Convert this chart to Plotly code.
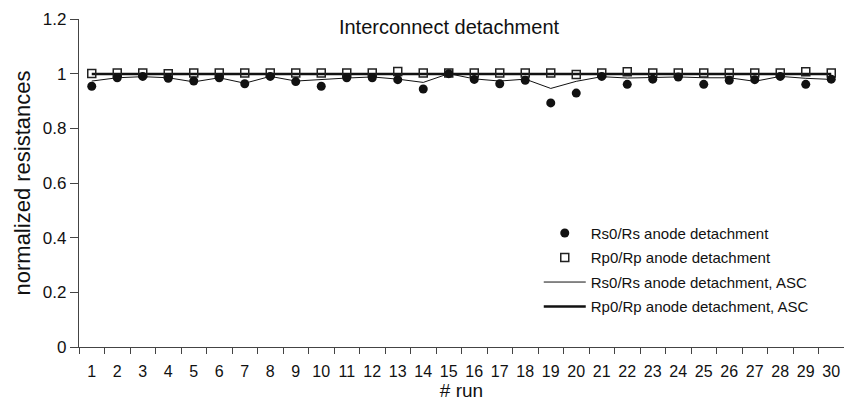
import plotly.graph_objects as go

runs = [str(i) for i in range(1, 31)]
rs_points = [0.954, 0.985, 0.990, 0.983, 0.973, 0.985, 0.963, 0.990, 0.971, 0.954,
             0.985, 0.985, 0.978, 0.944, 1.000, 0.979, 0.963, 0.976, 0.893, 0.929,
             0.990, 0.961, 0.980, 0.988, 0.961, 0.976, 0.978, 0.990, 0.961, 0.980]
rp_points = [1.001, 1.002, 1.002, 1.000, 1.002, 1.002, 1.002, 1.002, 1.002, 1.002,
             1.002, 1.002, 1.008, 1.002, 1.002, 1.002, 1.002, 1.002, 1.002, 0.997,
             1.002, 1.007, 1.002, 1.002, 1.002, 1.002, 1.002, 1.002, 1.007, 1.002]
rs_asc = [0.973, 0.985, 0.989, 0.985, 0.970, 0.985, 0.965, 0.990, 0.973, 0.979,
          0.984, 0.988, 0.980, 0.968, 1.000, 0.981, 0.973, 0.980, 0.946, 0.972,
          0.989, 0.984, 0.985, 0.988, 0.985, 0.985, 0.972, 0.990, 0.983, 0.979]
rp_asc = [0.999] * 30

fig = go.Figure()
fig.add_trace(go.Scatter(x=runs, y=rs_asc, mode="lines", name="Rs0/Rs anode detachment, ASC",
                         line=dict(color="#111", width=1), legendrank=3, legendgroup="c"))
fig.add_trace(go.Scatter(x=runs, y=rp_asc, mode="lines", name="Rp0/Rp anode detachment, ASC",
                         line=dict(color="#111", width=2.6), legendrank=4, legendgroup="d"))
fig.add_trace(go.Scatter(x=runs, y=rp_points, mode="markers", name="Rp0/Rp anode detachment",
                         marker=dict(symbol="square-open", size=8, color="#222", line=dict(width=1.5)),
                         legendrank=2, legendgroup="b"))
fig.add_trace(go.Scatter(x=runs, y=rs_points, mode="markers", name="Rs0/Rs anode detachment",
                         marker=dict(symbol="circle", size=9, color="#111"), legendrank=1,
                         legendgroup="a"))

fig.update_layout(
    width=844, height=405,
    margin=dict(l=79, r=0, t=19, b=58, autoexpand=False),
    paper_bgcolor="white", plot_bgcolor="white",
    font=dict(family="Liberation Sans, Arial, sans-serif", color="#111", size=16),
    title=dict(text="Interconnect detachment", x=0.532, xanchor="center", y=0.933, yanchor="middle",
               font=dict(size=20)),
    showlegend=True,
    legend=dict(x=0.601, xanchor="left", y=0.397, yanchor="top", bgcolor="rgba(0,0,0,0)",
                font=dict(size=15), tracegroupgap=2, itemwidth=42),
    xaxis=dict(type="category", range=[-0.5, 29.5], tickson="boundaries", ticks="outside",
               ticklen=6, tickcolor="#444", showline=True, linecolor="#444", linewidth=1.2,
               showgrid=False, zeroline=False, tickfont=dict(size=16), ticklabelstandoff=10,
               tickangle=0, automargin=False,
               title=dict(text="# run", font=dict(size=19), standoff=4)),
    yaxis=dict(range=[0, 1.2], tickvals=[0, 0.2, 0.4, 0.6, 0.8, 1.0, 1.2],
               ticktext=["0", "0.2", "0.4", "0.6", "0.8", "1", "1.2"],
               ticks="outside", ticklen=8, tickcolor="#444", showline=True, linecolor="#444",
               linewidth=1.2, showgrid=False, zeroline=False, tickfont=dict(size=17),
               automargin=False,
               title=dict(text="normalized resistances", font=dict(size=22), standoff=6)),
)

fig.write_html("out.html")
